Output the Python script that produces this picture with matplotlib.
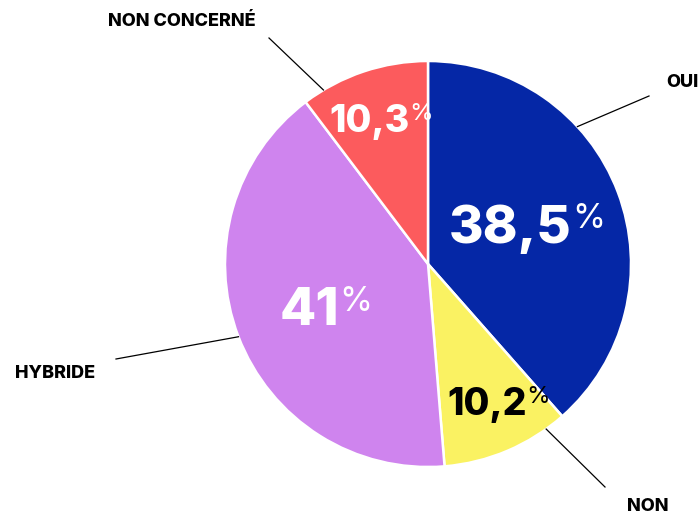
import numpy as np
import matplotlib.pyplot as plt

W, H = 699, 514

labels = ["OUI", "NON", "HYBRIDE", "NON CONCERNÉ"]
values = [38.5, 10.2, 41.0, 10.3]
pct_text = ["38,5", "10,2", "41", "10,3"]
colors = ["#0527a6", "#faf262", "#cf84ee", "#fc5b5d"]
pct_colors = ["white", "black", "white", "white"]

# layout (pixel units, y from top)
center = (428, 264)
radius = 203
pct_pos = [(449, 243), (447, 415), (280, 325), (329, 132)]
pct_size = [38, 27, 38, 27]
lead_angle = [42.6, -54.4, 201, 121]
lead_end = [(649, 96), (605, 487), (116, 359), (269, 38)]
label_pos = [(666, 87), (627, 511), (15, 378), (108, 26)]

plt.rcParams['font.family'] = ['Inter', 'DejaVu Sans']

fig = plt.figure(figsize=(W / 100, H / 100), dpi=100)
ax = fig.add_axes([0, 0, 1, 1])

def px(x, y):
    return (x, H - y)

ax.pie(values, colors=colors, startangle=90, counterclock=False,
       center=px(*center), radius=radius,
       wedgeprops=dict(edgecolor='white', linewidth=1.8))
ax.set_xlim(0, W)
ax.set_ylim(0, H)
ax.set_aspect('equal')
ax.axis('off')

for i in range(len(values)):
    t = ax.text(*px(*pct_pos[i]), pct_text[i], color=pct_colors[i],
                fontsize=pct_size[i], fontweight='heavy', ha='left', va='baseline')
    ax.annotate('%', xy=(1, 1), xycoords=t, xytext=(0, 1),
                textcoords='offset points', ha='left', va='top',
                color=pct_colors[i], fontsize=pct_size[i] * 0.64)

    a = np.deg2rad(lead_angle[i])
    cx, cy = px(*center)
    start = (cx + radius * np.cos(a), cy + radius * np.sin(a))
    ax.plot([start[0], px(*lead_end[i])[0]], [start[1], px(*lead_end[i])[1]],
            color='black', linewidth=0.9)
    ax.text(*px(*label_pos[i]), labels[i], fontsize=13, fontweight='heavy',
            ha='left', va='baseline', color='black')

fig.savefig('out.png', dpi=100)
